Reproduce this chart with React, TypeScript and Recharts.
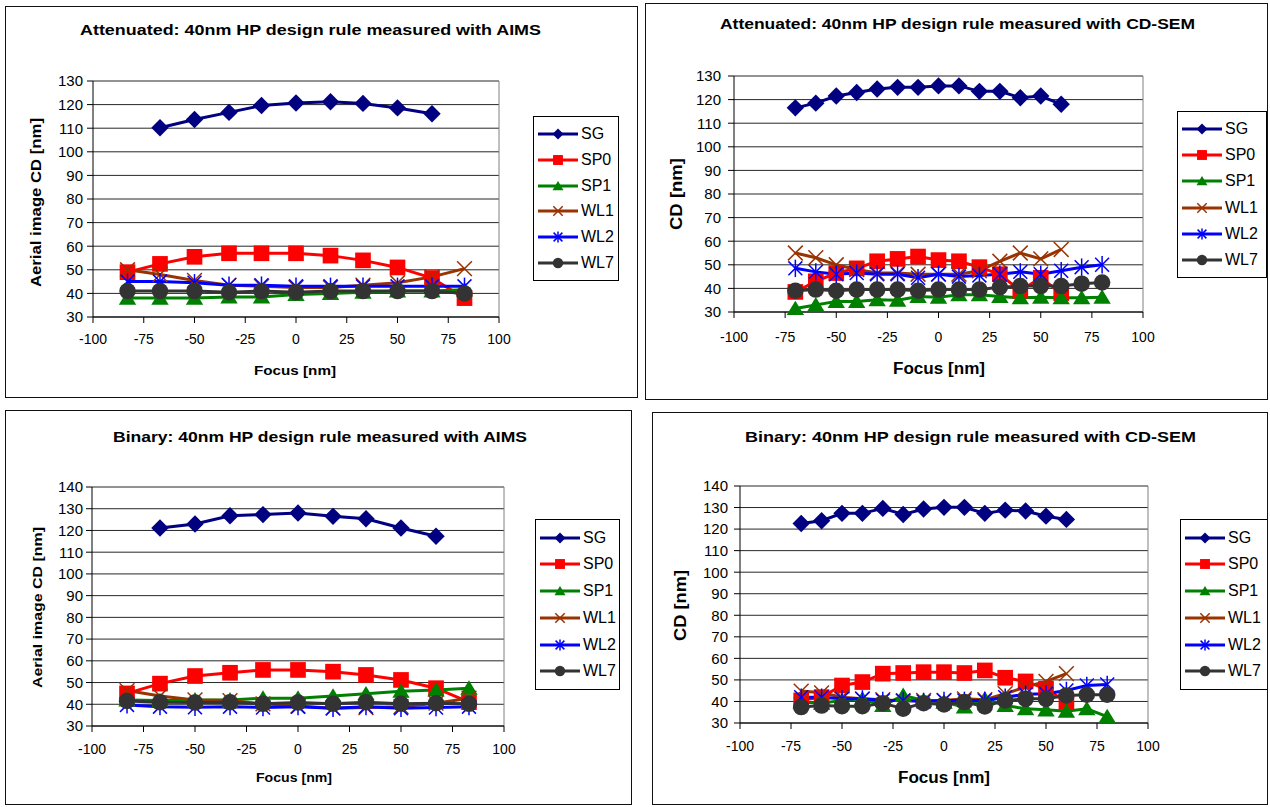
import React from 'react';
import { LineChart, Line, XAxis, YAxis, CartesianGrid, ReferenceLine, Legend } from 'recharts';

const FONT = 'Arial, "Liberation Sans", Helvetica, sans-serif';

// focus settings [nm]
const aimsFocus = [-83, -67, -50, -33, -17, 0, 17, 33, 50, 67, 83];
const aimsFocusSG = [-67, -50, -33, -17, 0, 17, 33, 50, 67];
const semFocus = [-70, -60, -50, -40, -30, -20, -10, 0, 10, 20, 30, 40, 50, 60, 70, 80];
const semFocusShort = [-70, -60, -50, -40, -30, -20, -10, 0, 10, 20, 30, 40, 50, 60];

const focusTicks = [-100, -75, -50, -25, 0, 25, 50, 75, 100];
const cdTicksAtt = [30, 40, 50, 60, 70, 80, 90, 100, 110, 120, 130];
const cdTicksBin = [30, 40, 50, 60, 70, 80, 90, 100, 110, 120, 130, 140];

// attenuated mask, AIMS
const attAimsSG = [110.2, 113.7, 116.7, 119.6, 120.7, 121.2, 120.5, 118.6, 116.1];
const attAimsSP0 = [49, 52.5, 55.5, 57, 57, 57, 56, 54, 51, 46.5, 38];
const attAimsSP1 = [38, 38, 38, 38.5, 38.5, 39.5, 40, 40.5, 41, 41, 41.5];
const attAimsWL1 = [50, 48, 45.5, 43.5, 43, 42.5, 42.5, 43.5, 44.5, 47, 50.5];
const attAimsWL2 = [45, 45, 44.5, 43.5, 43.5, 43, 43, 43, 43, 43, 43];
const attAimsWL7 = [41, 41, 41, 40.5, 41, 40.5, 41, 41, 41, 41, 40];

// attenuated mask, CD-SEM
const attSemSG = [116.5, 118.5, 121.5, 123, 124.5, 125.2, 125.2, 125.8, 125.8, 123.5, 123.5, 120.8, 121.5, 118];
const attSemSP0 = [38.5, 43, 46.5, 48.5, 51.5, 52.5, 53.5, 52, 51.5, 49, 46, 39, 44.5, 38];
const attSemSP1 = [31.5, 33, 34.5, 34.5, 35.2, 35, 36.6, 36.3, 37.3, 37.3, 36.6, 36, 36.3, 36, 36, 36.3];
const attSemWL1 = [55, 53, 50, 48, 46.5, 46.5, 46, 46, 46, 47.5, 51.5, 55, 52.5, 56.5];
const attSemWL2 = [48.5, 47, 46, 46.5, 46, 46, 44.5, 46, 45, 45.5, 46, 47, 46, 47.5, 49, 50];
const attSemWL7 = [39, 39.5, 39, 39.5, 39.5, 39.5, 39, 39.5, 39.5, 39.5, 40.5, 41, 41, 41, 42, 42.5];

// binary mask, AIMS
const binAimsSG = [121.1, 123, 126.8, 127.3, 128, 126.5, 125.4, 121.1, 117.3];
const binAimsSP0 = [45, 49.5, 53, 54.5, 55.8, 55.8, 55, 53.5, 51.2, 47.4, 41];
const binAimsSP1 = [42, 41.7, 42, 42, 42.8, 42.8, 43.8, 44.8, 46, 46.6, 47.4];
const binAimsWL1 = [46.3, 43.8, 42, 41.7, 40.2, 39.2, 38.2, 38.5, 38.9, 40.5, 42.8];
const binAimsWL2 = [39.7, 38.9, 38.6, 38.9, 38.5, 38.9, 38.2, 38.9, 38.2, 38.5, 38.9];
const binAimsWL7 = [41.5, 40.9, 40.8, 40.9, 40.2, 40.8, 40.2, 40.9, 40.2, 40.5, 40.2];

// binary mask, CD-SEM
const binSemSG = [122.6, 123.9, 127.3, 127.3, 129.6, 126.8, 129.3, 130.1, 130.1, 127.3, 128.8, 128.4, 126, 124.5];
const binSemSP0 = [40.5, 42, 47.4, 49, 52.9, 53.2, 53.6, 53.6, 53.2, 54.4, 51, 49.3, 45.9, 39.7];
const binSemSP1 = [39.7, 39.2, 40.5, 41.2, 38.1, 42.8, 40.5, 39.7, 37.4, 41.2, 38.1, 36.6, 36.1, 35.5, 36.6, 33];
const binSemWL1 = [44.8, 44, 42, 41.2, 40.8, 40.2, 40.5, 40.5, 41.2, 40.8, 43.6, 46.7, 49.3, 52.9];
const binSemWL2 = [42, 42, 41.2, 41.2, 40.5, 40.5, 40, 40.5, 40.5, 40.5, 42, 43.3, 43.6, 45.1, 47.4, 47.9];
const binSemWL7 = [37.4, 38.1, 37.8, 37.8, 39.2, 36.6, 39.2, 38.6, 39.7, 37.7, 40.5, 41.2, 41.2, 42.8, 43.1, 43.1];

type Shape = 'diamond' | 'square' | 'triangle' | 'cross' | 'star' | 'circle';

const seriesStyles: { name: string; color: string; shape: Shape }[] = [
  { name: 'SG', color: '#000080', shape: 'diamond' },
  { name: 'SP0', color: '#FF0000', shape: 'square' },
  { name: 'SP1', color: '#008000', shape: 'triangle' },
  { name: 'WL1', color: '#993300', shape: 'cross' },
  { name: 'WL2', color: '#0000FF', shape: 'star' },
  { name: 'WL7', color: '#333333', shape: 'circle' },
];

const toPoints = (focus: number[], cd: number[]) => focus.map((f, i) => ({ focus: f, cd: cd[i] }));

const Marker = ({ cx, cy, shape, color, s }: { cx: number; cy: number; shape: Shape; color: string; s: number }) => {
  switch (shape) {
    case 'diamond':
      return <polygon points={`${cx},${cy - s} ${cx + s},${cy} ${cx},${cy + s} ${cx - s},${cy}`} fill={color} />;
    case 'square':
      return <rect x={cx - s * 0.9} y={cy - s * 0.9} width={s * 1.8} height={s * 1.8} fill={color} />;
    case 'triangle':
      return <polygon points={`${cx},${cy - s * 0.9} ${cx + s},${cy + s * 0.75} ${cx - s},${cy + s * 0.75}`} fill={color} />;
    case 'cross':
      return (
        <g stroke={color} strokeWidth={1.5}>
          <line x1={cx - s * 0.85} y1={cy - s * 0.85} x2={cx + s * 0.85} y2={cy + s * 0.85} />
          <line x1={cx - s * 0.85} y1={cy + s * 0.85} x2={cx + s * 0.85} y2={cy - s * 0.85} />
        </g>
      );
    case 'star':
      return (
        <g stroke={color} strokeWidth={1.5}>
          <line x1={cx - s * 0.8} y1={cy - s * 0.8} x2={cx + s * 0.8} y2={cy + s * 0.8} />
          <line x1={cx - s * 0.8} y1={cy + s * 0.8} x2={cx + s * 0.8} y2={cy - s * 0.8} />
          <line x1={cx} y1={cy - s} x2={cx} y2={cy + s} />
        </g>
      );
    default:
      return <circle cx={cx} cy={cy} r={s * 0.95} fill={color} />;
  }
};

const dotFor = (shape: Shape, color: string) => (props: any) => {
  if (props.cx == null || props.cy == null) return <g key={`${shape}-${props.index}`} />;
  return (
    <g key={`${shape}-${props.index}`}>
      <Marker cx={props.cx} cy={props.cy} shape={shape} color={color} s={8.7} />
    </g>
  );
};

const LegendBox = ({ fontSize }: { fontSize: number }) => (
  <div
    style={{
      width: '100%',
      height: '100%',
      boxSizing: 'border-box',
      border: '1px solid #000',
      background: '#fff',
      display: 'flex',
      flexDirection: 'column',
      justifyContent: 'space-evenly',
      paddingLeft: 3,
    }}
  >
    {seriesStyles.map((s) => (
      <div key={s.name} style={{ display: 'flex', alignItems: 'center', fontFamily: FONT, fontSize, color: '#000' }}>
        <svg width={42} height={14} style={{ marginRight: 2 }}>
          <line x1={1} y1={7} x2={41} y2={7} stroke={s.color} strokeWidth={3} />
          <Marker cx={21} cy={7} shape={s.shape} color={s.color} s={5.5} />
        </svg>
        <span>{s.name}</span>
      </div>
    ))}
  </div>
);

type PanelProps = {
  frame: { x: number; y: number; w: number; h: number };
  margin: { top: number; right: number; bottom: number; left: number };
  yTicks: number[];
  series: { focus: number[]; cd: number[] }[];
  legend: { left: number; top: number; width: number; height: number };
  xTickMargin: number;
  yTickMargin: number;
};

const Panel = ({ frame, margin, yTicks, series, legend, xTickMargin, yTickMargin }: PanelProps) => (
  <div style={{ position: 'absolute', left: frame.x, top: frame.y }}>
    <LineChart width={frame.w} height={frame.h} margin={margin}>
      <CartesianGrid horizontal vertical={false} stroke="#000" strokeOpacity={0.85} />
      <XAxis
        type="number"
        dataKey="focus"
        domain={[-100, 100]}
        ticks={focusTicks}
        interval={0}
        height={30}
        tickSize={6}
        tickMargin={xTickMargin}
        axisLine={{ stroke: '#000' }}
        tickLine={{ stroke: '#000' }}
        tick={{ fill: '#000', fontSize: 14, fontFamily: FONT }}
      />
      <YAxis
        type="number"
        domain={[yTicks[0], yTicks[yTicks.length - 1]]}
        ticks={yTicks}
        interval={0}
        width={60}
        tickSize={6}
        tickMargin={yTickMargin}
        axisLine={{ stroke: '#000' }}
        tickLine={{ stroke: '#000' }}
        tick={{ fill: '#000', fontSize: 15, fontFamily: FONT }}
      />
      <ReferenceLine x={100} stroke="#808080" />
      {series.map((s, i) => (
        <Line
          key={seriesStyles[i].name}
          data={toPoints(s.focus, s.cd)}
          dataKey="cd"
          name={seriesStyles[i].name}
          stroke={seriesStyles[i].color}
          strokeWidth={3}
          dot={dotFor(seriesStyles[i].shape, seriesStyles[i].color)}
          activeDot={false}
          isAnimationActive={false}
        />
      ))}
      <Legend
        layout="vertical"
        align="center"
        verticalAlign="middle"
        content={() => <LegendBox fontSize={16} />}
        wrapperStyle={{ left: legend.left, top: legend.top, width: legend.width, height: legend.height }}
      />
    </LineChart>
  </div>
);

const frames = [
  { x: 5, y: 6, w: 633, h: 392 },
  { x: 645, y: 3, w: 623, h: 397 },
  { x: 5, y: 410, w: 627, h: 395 },
  { x: 652, y: 412, w: 616, h: 393 },
];

const boldText = (
  label: string,
  x: number,
  y: number,
  length: number,
  fontSize: number,
  vertical = false
) => (
  <text
    key={`${label}-${x}-${y}`}
    x={vertical ? 0 : x}
    y={vertical ? 0 : y}
    transform={vertical ? `translate(${x},${y}) rotate(-90)` : undefined}
    textLength={length}
    lengthAdjust="spacingAndGlyphs"
    fontFamily={FONT}
    fontWeight="bold"
    fontSize={fontSize}
    fill="#000"
  >
    {label}
  </text>
);

export default function App() {
  return (
    <div style={{ position: 'absolute', left: 0, top: 0, width: 1270, height: 807, background: '#fff', overflow: 'hidden' }}>
      <Panel
        frame={frames[0]}
        margin={{ top: 75, right: 139, bottom: 51, left: 28 }}
        yTicks={cdTicksAtt}
        xTickMargin={11}
        yTickMargin={4}
        legend={{ left: 528, top: 110, width: 86, height: 165 }}
        series={[
          { focus: aimsFocusSG, cd: attAimsSG },
          { focus: aimsFocus, cd: attAimsSP0 },
          { focus: aimsFocus, cd: attAimsSP1 },
          { focus: aimsFocus, cd: attAimsWL1 },
          { focus: aimsFocus, cd: attAimsWL2 },
          { focus: aimsFocus, cd: attAimsWL7 },
        ]}
      />
      <Panel
        frame={frames[1]}
        margin={{ top: 73, right: 125, bottom: 58, left: 29 }}
        yTicks={cdTicksAtt}
        xTickMargin={14}
        yTickMargin={7}
        legend={{ left: 532, top: 108, width: 90, height: 167 }}
        series={[
          { focus: semFocusShort, cd: attSemSG },
          { focus: semFocusShort, cd: attSemSP0 },
          { focus: semFocus, cd: attSemSP1 },
          { focus: semFocusShort, cd: attSemWL1 },
          { focus: semFocus, cd: attSemWL2 },
          { focus: semFocus, cd: attSemWL7 },
        ]}
      />
      <Panel
        frame={frames[2]}
        margin={{ top: 77, right: 128, bottom: 49, left: 27 }}
        yTicks={cdTicksBin}
        xTickMargin={12}
        yTickMargin={3}
        legend={{ left: 530, top: 109, width: 85, height: 171 }}
        series={[
          { focus: aimsFocusSG, cd: binAimsSG },
          { focus: aimsFocus, cd: binAimsSP0 },
          { focus: aimsFocus, cd: binAimsSP1 },
          { focus: aimsFocus, cd: binAimsWL1 },
          { focus: aimsFocus, cd: binAimsWL2 },
          { focus: aimsFocus, cd: binAimsWL7 },
        ]}
      />
      <Panel
        frame={frames[3]}
        margin={{ top: 74, right: 120, bottom: 52, left: 28 }}
        yTicks={cdTicksBin}
        xTickMargin={12}
        yTickMargin={6}
        legend={{ left: 528, top: 107, width: 88, height: 171 }}
        series={[
          { focus: semFocusShort, cd: binSemSG },
          { focus: semFocusShort, cd: binSemSP0 },
          { focus: semFocus, cd: binSemSP1 },
          { focus: semFocusShort, cd: binSemWL1 },
          { focus: semFocus, cd: binSemWL2 },
          { focus: semFocus, cd: binSemWL7 },
        ]}
      />
      {frames.map((f, i) => (
        <div
          key={i}
          style={{
            position: 'absolute',
            left: f.x,
            top: f.y,
            width: f.w,
            height: f.h,
            boxSizing: 'border-box',
            border: '1.5px solid #111',
            pointerEvents: 'none',
          }}
        />
      ))}
      <svg width={1270} height={807} style={{ position: 'absolute', left: 0, top: 0, pointerEvents: 'none' }}>
        {boldText('Attenuated: 40nm HP design rule measured with AIMS', 80, 35, 461, 15)}
        {boldText('Attenuated: 40nm HP design rule measured with CD-SEM', 720, 29, 475, 15)}
        {boldText('Binary: 40nm HP design rule measured with AIMS', 113, 442, 414, 15)}
        {boldText('Binary: 40nm HP design rule measured with CD-SEM', 745, 442, 451, 15)}
        {boldText('Aerial image CD [nm]', 41, 287, 169, 15, true)}
        {boldText('CD [nm]', 682, 230, 72, 17, true)}
        {boldText('Aerial image CD [nm]', 42, 688, 161, 13, true)}
        {boldText('CD [nm]', 686, 641, 71, 17, true)}
        {boldText('Focus [nm]', 254, 375, 82, 12.5)}
        {boldText('Focus [nm]', 893, 374, 92, 16)}
        {boldText('Focus [nm]', 256, 782, 76, 12)}
        {boldText('Focus [nm]', 898, 783, 92, 16)}
      </svg>
    </div>
  );
}
